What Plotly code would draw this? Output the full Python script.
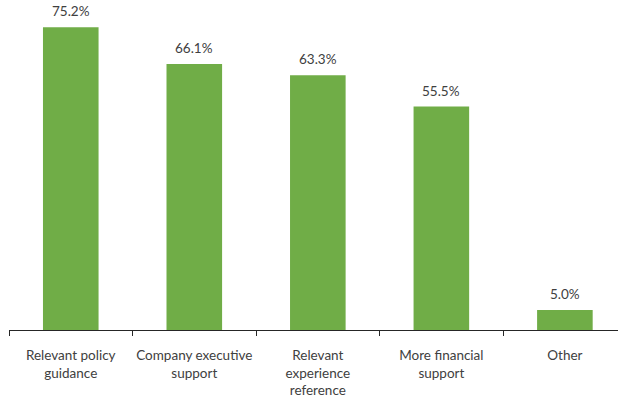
import plotly.graph_objects as go

categories = [
    "Relevant policy<br>guidance",
    "Company executive<br>support",
    "Relevant<br>experience<br>reference",
    "More financial<br>support",
    "Other",
]
shares = [75.2, 66.1, 63.3, 55.5, 5.0]

bar_color = "#70AD47"
text_color = "#404040"
font_family = "Lato, 'Open Sans', sans-serif"

fig = go.Figure(
    go.Bar(
        x=categories,
        y=shares,
        marker=dict(color=bar_color, line=dict(width=0)),
        cliponaxis=False,
    )
)

# value labels sitting above each bar
for cat, val in zip(categories, shares):
    fig.add_annotation(
        x=cat,
        y=val,
        text=f"{val:.1f}%",
        showarrow=False,
        yanchor="bottom",
        yshift=6,
        font=dict(family=font_family, size=13.5, color=text_color),
    )

fig.update_layout(
    width=618,
    height=400,
    margin=dict(l=9, r=0, t=8, b=70),
    paper_bgcolor="white",
    plot_bgcolor="white",
    bargap=0.55,
    showlegend=False,
    font=dict(family=font_family, size=13.5, color=text_color),
)

fig.update_xaxes(
    type="category",
    range=[-0.5, 4.43],
    showline=True,
    linecolor="#262626",
    linewidth=1,
    ticks="outside",
    tickson="boundaries",
    ticklen=5,
    tickcolor="#262626",
    tickangle=0,
    automargin=False,
    ticklabelstandoff=13,
    tickfont=dict(family=font_family, size=13.5, color=text_color),
    showgrid=False,
    fixedrange=True,
)

fig.update_yaxes(
    range=[0, 80],
    visible=False,
    showgrid=False,
    zeroline=False,
)

fig.write_html("out.html")
